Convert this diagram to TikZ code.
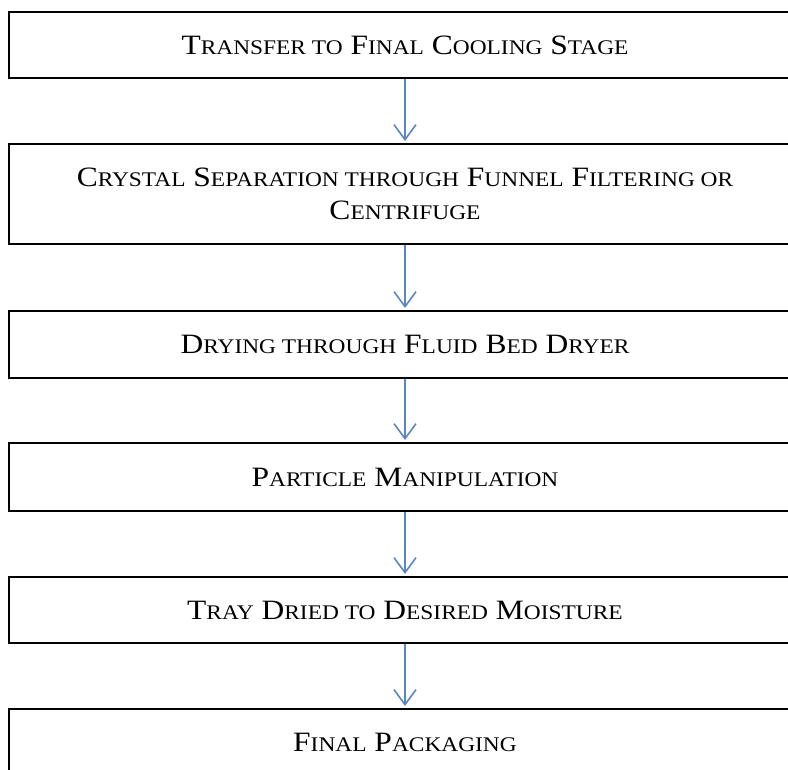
\documentclass[tikz,border=0pt]{standalone}
\usepackage{fontspec}
\setmainfont{Liberation Serif}
\newfontfamily\boxfont{Liberation Serif}[FakeStretch=1.125]
\usetikzlibrary{arrows.meta}
\definecolor{arrowblue}{HTML}{5B87C0}
\newcommand\smc[1]{{\fontsize{20.8}{33}\selectfont #1}}
\tikzset{
  stepbox/.style={draw=black, line width=2pt, minimum width=792pt, inner sep=0pt,
    align=center, font=\boxfont\fontsize{28}{33}\selectfont},
  flowarrow/.style={draw=arrowblue, line width=1.6pt, -{Straight Barb[length=15pt,width=22pt,line width=1.6pt]}, shorten >=2pt}
}
\begin{document}
\begin{tikzpicture}[x=1pt,y=-1pt]
\useasboundingbox (0,0) rectangle (788,770);
\clip (0,0) rectangle (788,770);
\node[stepbox, minimum height=66pt] (b1) at (405,45) {T\smc{RANSFER TO} F\smc{INAL} C\smc{OOLING} S\smc{TAGE}};
\node[stepbox, minimum height=100pt] (b2) at (405,194) {C\smc{RYSTAL} S\smc{EPARATION THROUGH} F\smc{UNNEL} F\smc{ILTERING OR}\\C\smc{ENTRIFUGE}};
\node[stepbox, minimum height=67pt] (b3) at (405,344.5) {D\smc{RYING THROUGH} F\smc{LUID} B\smc{ED} D\smc{RYER}};
\node[stepbox, minimum height=68pt] (b4) at (405,477) {P\smc{ARTICLE} M\smc{ANIPULATION}};
\node[stepbox, minimum height=66pt] (b5) at (405,610) {T\smc{RAY} D\smc{RIED TO} D\smc{ESIRED} M\smc{OISTURE}};
\node[stepbox, minimum height=66pt] (b6) at (405,742) {F\smc{INAL} P\smc{ACKAGING}};
\draw[flowarrow] (b1.south) -- (b2.north);
\draw[flowarrow] (b2.south) -- (b3.north);
\draw[flowarrow] (b3.south) -- (b4.north);
\draw[flowarrow] (b4.south) -- (b5.north);
\draw[flowarrow] (b5.south) -- (b6.north);
\end{tikzpicture}
\end{document}
